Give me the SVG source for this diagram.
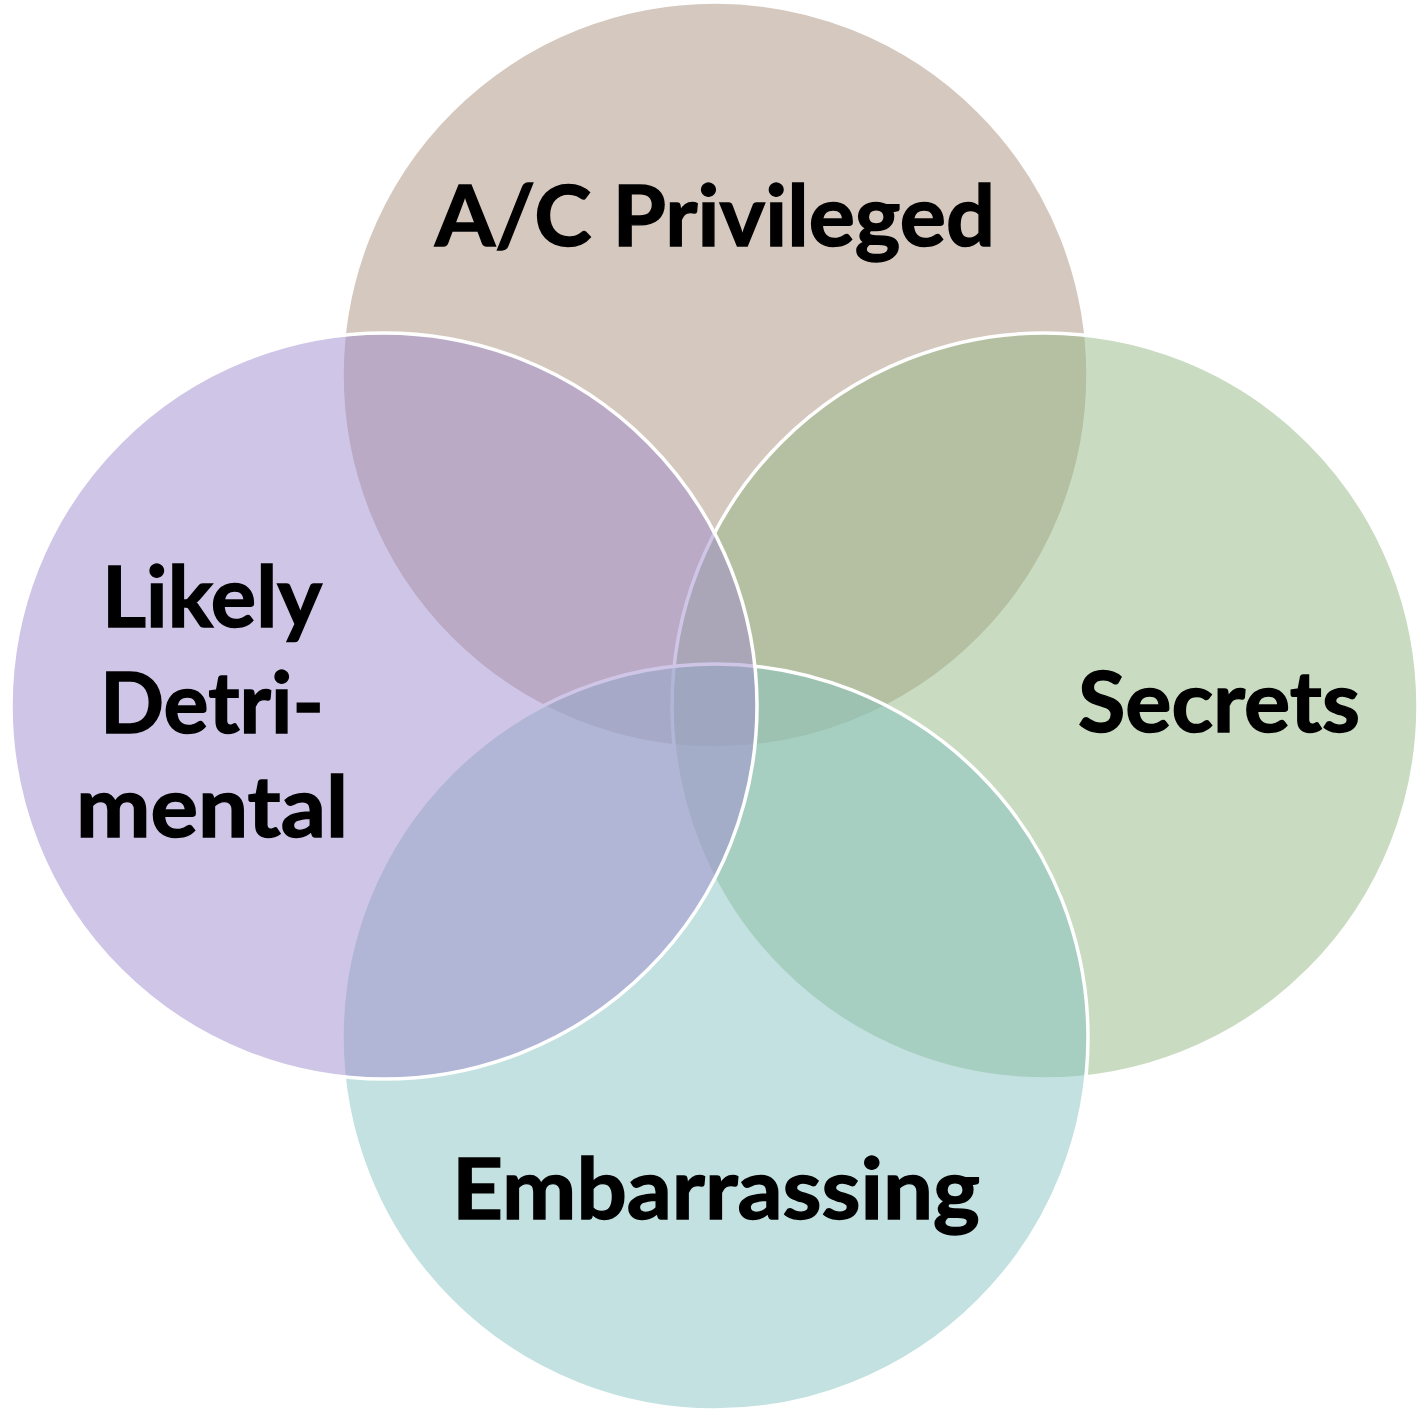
<svg xmlns="http://www.w3.org/2000/svg" width="1418" height="1414" viewBox="0 0 1418 1414">
<style>
.c{fill-opacity:0.5;stroke:#ffffff;stroke-width:3.5}
.t{font-family:"Lato","Liberation Sans",sans-serif;font-weight:bold;font-size:84px;fill:#000000;stroke:#000000;stroke-width:1.4;text-anchor:middle}
</style>
<rect width="1418" height="1414" fill="#ffffff"/>
<g id="node-top"><circle class="c" cx="715" cy="375" r="373" fill="#AB917D"/></g>
<g id="node-right"><circle class="c" cx="1045" cy="706" r="373" fill="#93B783"/></g>
<g id="node-bottom"><circle class="c" cx="715" cy="1037" r="373" fill="#85C3C1"/></g>
<g id="node-left"><circle class="c" cx="384" cy="706" r="373" fill="#9F8BCD"/></g>
<g id="connectors"></g>
<g id="labels">
<text class="t" x="715" y="246" textLength="560" lengthAdjust="spacingAndGlyphs">A/C Privileged</text>
<text class="t" x="1219" y="732" textLength="282" lengthAdjust="spacingAndGlyphs">Secrets</text>
<text class="t" x="716" y="1219" textLength="528" lengthAdjust="spacingAndGlyphs">Embarrassing</text>
<text class="t" x="212" y="627" textLength="220" lengthAdjust="spacingAndGlyphs">Likely</text>
<text class="t" x="212" y="733" textLength="224" lengthAdjust="spacingAndGlyphs">Detri-</text>
<text class="t" x="212" y="837" textLength="272" lengthAdjust="spacingAndGlyphs">mental</text>
</g>
</svg>
